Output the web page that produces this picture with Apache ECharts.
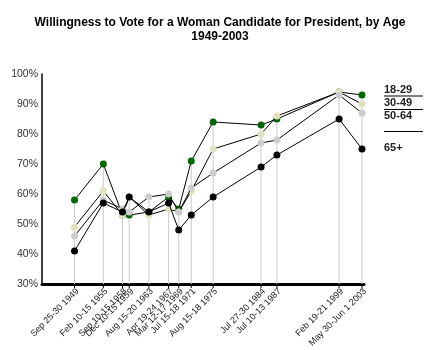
<!DOCTYPE html>
<html lang="en">
<head>
  <meta charset="utf-8">
  <title>Willingness to Vote for a Woman Candidate</title>
  <style>
    html, body { margin: 0; padding: 0; background: #fff; }
    #chart { width: 440px; height: 350px; }
  </style>
</head>
<body>
  <div id="chart"></div>
  <script src="https://cdn.jsdelivr.net/npm/echarts@6/dist/echarts.min.js"></script>
  <script>
    // poll dates (midpoint of fieldwork) and the labels printed under the axis
    var dates = ['1949-09-27', '1955-02-12', '1958-09-12', '1959-12-12', '1963-08-17', '1967-04-21',
      '1969-03-14', '1971-07-16', '1975-08-16', '1984-07-28', '1987-07-11', '1999-02-20', '2003-05-31'];
    var dateLabels = ['Sep 25-30 1949', 'Feb 10-15 1955', 'Sep 10-15 1958', 'Dec 10-15 1959', 'Aug 15-20 1963',
      'Apr 19-24 1967', 'Mar 12-17 1969', 'Jul 15-18 1971', 'Aug 15-18 1975', 'Jul 27-30 1984',
      'Jul 10-13 1987', 'Feb 19-21 1999', 'May 30-Jun 1 2003'];

    var names = ['18-29', '30-49', '50-64', '65+'];
    var age18 = [58, 70, 53, 53, 54, 59, 55, 71, 84, 83, 85, 94, 93];
    var age30 = [49, 61, 53, 59, 53, 55, 54, 61, 75, 80, 86, 94, 90];
    var age50 = [46, 58, 55, 54, 59, 60, 54, 62, 67, 77, 78, 93, 87];
    var age65 = [41, 57, 54, 59, 54, 57, 48, 53, 59, 69, 73, 85, 75];
    var colors = ['#006600', '#e2e2c0', '#cccccc', '#000000'];

    var chart = echarts.init(document.getElementById('chart'));

    var allSeries = [age18, age30, age50, age65];
    var lineSeries = allSeries.map(function (vals, i) {
      return {
        name: names[i],
        type: 'line',
        data: dates.map(function (d, j) { return [d, vals[j]]; }),
        symbol: 'circle',
        symbolSize: 7,
        itemStyle: { color: colors[i] },
        lineStyle: { color: '#000', width: 1 },
        z: 3 + i,
        animation: false
      };
    });

    // drop lines, ticks and rotated date labels
    var dropData = dates.map(function (d, j) {
      var top = Math.max(age18[j], age30[j], age50[j], age65[j]);
      return [d, top, j];
    });
    var dropSeries = {
      type: 'custom',
      data: dropData,
      z: 1,
      silent: true,
      animation: false,
      renderItem: function (params, api) {
        var base = api.coord([api.value(0), 30]);
        var top = api.coord([api.value(0), api.value(1)]);
        var idx = api.value(2);
        return {
          type: 'group',
          children: [
            { type: 'line', shape: { x1: base[0], y1: base[1], x2: top[0], y2: top[1] },
              style: { stroke: '#cccccc', lineWidth: 1 } },
            { type: 'line', shape: { x1: base[0], y1: base[1], x2: base[0], y2: base[1] + 4 },
              style: { stroke: '#000', lineWidth: 1 } },
            { type: 'text', x: base[0] + 3, y: base[1] + 6, rotation: Math.PI / 4,
              style: { text: dateLabels[idx], fill: '#1a1a1a', font: '9px Arial, "Liberation Sans", sans-serif',
                align: 'right', verticalAlign: 'middle' } }
          ]
        };
      }
    };

    var legendFont = 'bold 11px Arial, "Liberation Sans", sans-serif';
    var option = {
      backgroundColor: '#fff',
      title: {
        text: 'Willingness to Vote for a Woman Candidate for President, by Age\n1949-2003',
        left: 'center',
        top: 11,
        textStyle: { fontSize: 12, fontWeight: 'bold', color: '#000', lineHeight: 14,
          fontFamily: 'Arial, "Liberation Sans", sans-serif' }
      },
      grid: { left: 42, right: 76, top: 74, bottom: 66 },
      xAxis: {
        type: 'time',
        min: +new Date('1943-09-01'),
        max: +new Date('2003-10-15'),
        axisLine: { lineStyle: { color: '#000', width: 3 } },
        axisTick: { show: false },
        axisLabel: { show: false },
        splitLine: { show: false }
      },
      yAxis: {
        type: 'value',
        min: 30,
        max: 100,
        interval: 10,
        axisLine: { show: true, lineStyle: { color: '#000', width: 1.5 } },
        axisTick: { show: false },
        splitLine: { show: false },
        axisLabel: { formatter: '{value}%', color: '#333', fontSize: 10.5, margin: 4,
          fontFamily: 'Arial, "Liberation Sans", sans-serif' }
      },
      series: [dropSeries].concat(lineSeries),
      graphic: [
        { type: 'text', left: 384, top: 84, style: { text: names[0], font: legendFont, fill: '#222' } },
        { type: 'line', shape: { x1: 384, y1: 96, x2: 423, y2: 96 }, style: { stroke: '#000', lineWidth: 1 } },
        { type: 'text', left: 384, top: 97, style: { text: names[1], font: legendFont, fill: '#222' } },
        { type: 'line', shape: { x1: 384, y1: 109.5, x2: 423, y2: 109.5 }, style: { stroke: '#000', lineWidth: 1 } },
        { type: 'text', left: 384, top: 110, style: { text: names[2], font: legendFont, fill: '#222' } },
        { type: 'line', shape: { x1: 384, y1: 131.5, x2: 423, y2: 131.5 }, style: { stroke: '#000', lineWidth: 1 } },
        { type: 'text', left: 384, top: 142, style: { text: names[3], font: legendFont, fill: '#222' } }
      ]
    };
    chart.setOption(option);
  </script>
</body>
</html>
